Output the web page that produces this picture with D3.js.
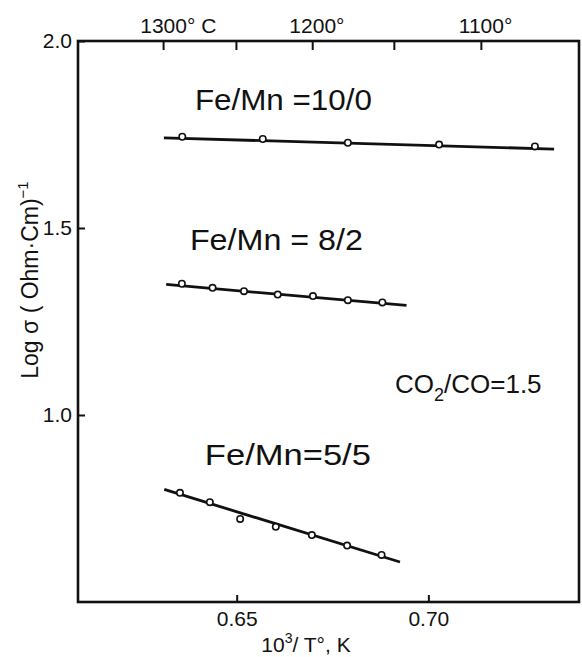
<!DOCTYPE html>
<head>
  <meta charset="utf-8">
  <script src="https://d3js.org/d3.v7.min.js"></script>
  <style>
    body { margin:0; background:#fff; }
    text { font-family: "Liberation Sans", Arial, sans-serif; fill:#111; }
    .fit { fill:none; stroke:#111; stroke-width:2.8px; }
    .pt { fill:#fff; stroke:#111; stroke-width:1.6px; }
  </style>
</head>
<body>
<script>
  // data (x = 10^3/T, y = log sigma)
  var invT_100 = [0.6358, 0.6568, 0.6790, 0.7028, 0.7278];
  var logS_100 = [1.744, 1.738, 1.728, 1.723, 1.718];
  var fitX_100 = [0.6310, 0.7328], fitY_100 = [1.741, 1.711];

  var invT_82 = [0.6357, 0.6437, 0.6519, 0.6607, 0.6699, 0.6790, 0.6880];
  var logS_82 = [1.351, 1.340, 1.331, 1.322, 1.318, 1.307, 1.301];
  var fitX_82 = [0.6316, 0.6943], fitY_82 = [1.349, 1.293];

  var invT_55 = [0.6352, 0.6430, 0.6509, 0.6602, 0.6696, 0.6788, 0.6878];
  var logS_55 = [0.792, 0.767, 0.722, 0.701, 0.679, 0.651, 0.626];
  var fitX_55 = [0.6311, 0.6926], fitY_55 = [0.801, 0.607];

  var seriesNames = ["Fe/Mn =10/0", "Fe/Mn = 8/2", "Fe/Mn=5/5"];
  var labelX = [0.6391, 0.6378, 0.6417], labelY = [1.8155, 1.441, 0.866];

  var bottomTicks = [0.65, 0.70];
  var leftTicks = [1.0, 1.5, 2.0];
  var topTicks = [0.6308, 0.6498, 0.6697, 0.6910, 0.7137];
  var topNums = ["1300", "", "1200", "", "1100"];
  var topSuffix = ["° C", "", "°", "", "°"];

  var margin = {top: 41, right: 3, bottom: 55, left: 78},
      width = 582 - margin.left - margin.right,
      height = 657 - margin.top - margin.bottom;

  var svg = d3.select("body").append("svg")
      .attr("width", 582)
      .attr("height", 657)
    .append("g")
      .attr("transform", "translate(" + margin.left + "," + margin.top + ")");

  var x = d3.scaleLinear().domain([0.6086, 0.7393]).range([0, width]);
  var y = d3.scaleLinear().domain([0.5, 2.0]).range([height, 0]);

  // bottom axis
  var gx = svg.append("g")
      .attr("transform", "translate(0," + height + ")")
      .call(d3.axisBottom(x).tickValues(bottomTicks).tickSize(-7).tickPadding(9)
        .tickFormat(d3.format(".2f")));
  // left axis
  var gy = svg.append("g")
      .call(d3.axisLeft(y).tickValues(leftTicks).tickSize(-7).tickPadding(6)
        .tickFormat(d3.format(".1f")));
  // top axis (temperature)
  var gt = svg.append("g")
      .call(d3.axisTop(x).tickValues(topTicks).tickSize(-9).tickPadding(8)
        .tickFormat(function(d, i) { return ""; }));

  [gx, gy, gt].forEach(function(g) {
    g.select(".domain").remove();
    g.selectAll(".tick line").attr("stroke", "#111").attr("stroke-width", 2);
    g.selectAll(".tick text").attr("font-size", 21).attr("fill", "#111")
      .style("font-family", "'Liberation Sans', Arial, sans-serif");
  });

  gt.selectAll(".tick text").each(function(d, i) {
    var t = d3.select(this).attr("text-anchor", "start");
    if (!topNums[i]) return;
    t.append("tspan").text(topNums[i]);
    t.append("tspan").text(topSuffix[i]);
    var w = this.getSubStringLength(0, topNums[i].length);
    t.attr("x", -w / 2);
  });

  // frame
  svg.append("rect")
      .attr("x", 0).attr("y", 0)
      .attr("width", width).attr("height", height)
      .attr("fill", "none").attr("stroke", "#111").attr("stroke-width", 2.6);

  var sets = [
    {xs: invT_100, ys: logS_100, fx: fitX_100, fy: fitY_100},
    {xs: invT_82, ys: logS_82, fx: fitX_82, fy: fitY_82},
    {xs: invT_55, ys: logS_55, fx: fitX_55, fy: fitY_55}
  ];

  var line = d3.line()
      .x(function(d) { return x(d[0]); })
      .y(function(d) { return y(d[1]); });

  sets.forEach(function(s, k) {
    svg.append("path")
      .datum(d3.zip(s.fx, s.fy))
      .attr("class", "fit")
      .attr("d", line);
    svg.selectAll(".pt" + k).data(d3.zip(s.xs, s.ys)).enter()
      .append("circle")
      .attr("class", "pt pt" + k)
      .attr("cx", function(d) { return x(d[0]); })
      .attr("cy", function(d) { return y(d[1]); })
      .attr("r", 3.2);
  });

  // series labels
  var labelW = [177, 173, 166];
  seriesNames.forEach(function(n, i) {
    svg.append("text")
      .attr("x", x(labelX[i]))
      .attr("y", y(labelY[i]))
      .attr("font-size", 29)
      .attr("textLength", labelW[i])
      .attr("lengthAdjust", "spacingAndGlyphs")
      .text(n);
  });

  // gas ratio
  var co = svg.append("text")
      .attr("x", x(0.6913))
      .attr("y", y(1.059))
      .attr("font-size", 26);
  co.append("tspan").text("CO");
  co.append("tspan").attr("font-size", 18).attr("dy", 8).text("2");
  co.append("tspan").attr("dy", -8).text("/CO=1.5");

  // axis titles
  var xt = svg.append("text")
      .attr("x", 306 - margin.left)
      .attr("y", 652 - margin.top)
      .attr("text-anchor", "middle")
      .attr("font-size", 21);
  xt.append("tspan").text("10");
  xt.append("tspan").attr("font-size", 14).attr("dy", -9).text("3");
  xt.append("tspan").attr("dy", 9).text("/ T°, K");

  var yt = svg.append("text")
      .attr("transform", "translate(" + (38 - margin.left) + "," + (280 - margin.top) + ") rotate(-90)")
      .attr("text-anchor", "middle")
      .attr("font-size", 23);
  yt.append("tspan").text("Log σ ( Ohm·Cm)");
  yt.append("tspan").attr("font-size", 15).attr("dy", -10).text("−1");
</script>
</body>
